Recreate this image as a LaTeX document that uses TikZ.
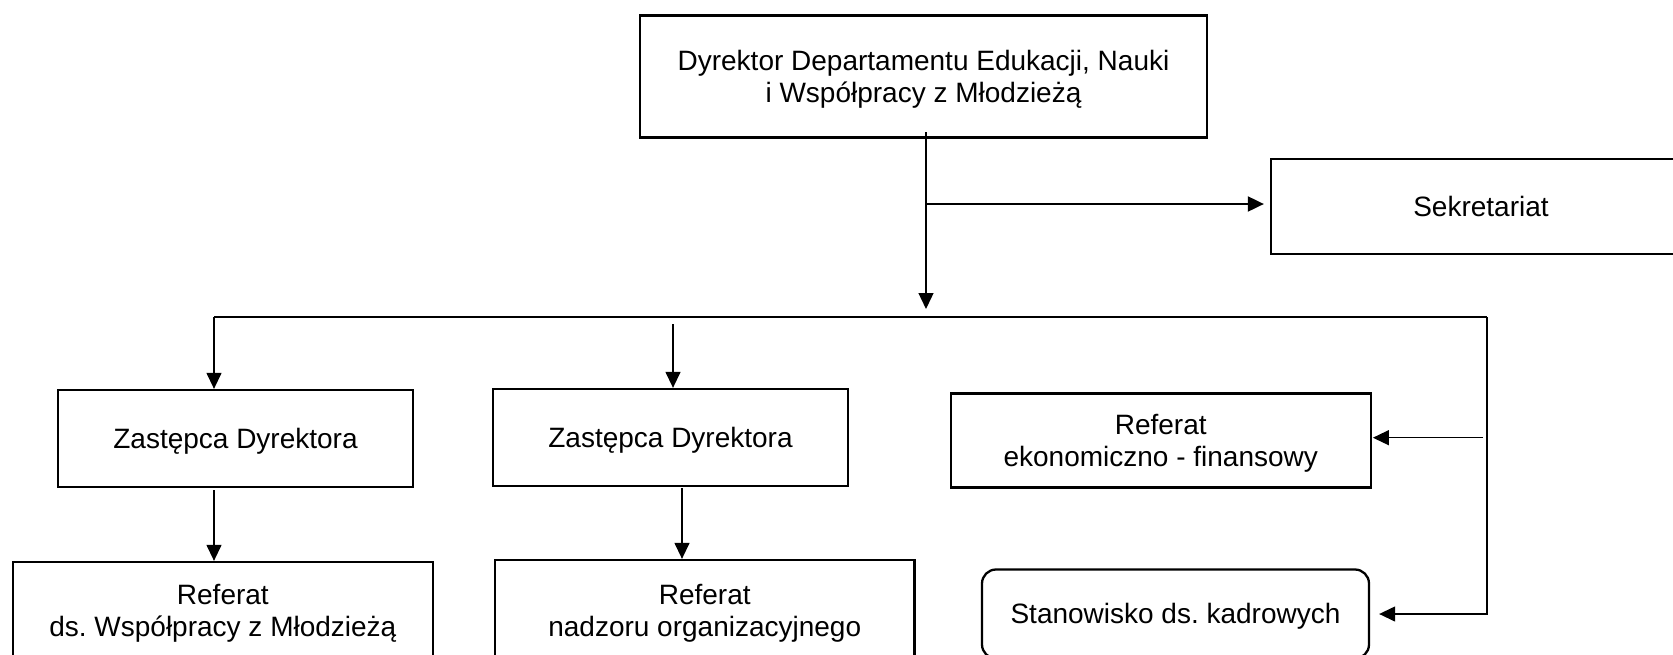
\documentclass[tikz,border=0pt]{standalone}
\usepackage{fontspec}
\setmainfont{Liberation Sans}
\usetikzlibrary{arrows.meta,calc}
\begin{document}
\begin{tikzpicture}[x=1pt,y=-1pt,
  box/.style={draw,line width=2.3pt,align=center,inner sep=0pt,
    font=\fontsize{28}{32.2}\selectfont\frenchspacing,text height=25.8pt,text depth=6.6pt},
  box2/.style={box,text height=58pt,text depth=6.4pt},
  conn/.style={line width=1.3pt},
  arr/.style={conn,-{Triangle[length=16pt,width=15pt]}}]
\useasboundingbox (0,0) rectangle (1673,654);
\clip (0,0) rectangle (1673,654);
% nodes
\node[box2,minimum width=567pt,minimum height=122pt] (dyr) at (923.5,76.5)
  {Dyrektor Departamentu Edukacji, Nauki\\i Współpracy z Młodzieżą};
\node[box,minimum width=420pt,minimum height=95pt] (sek) at (1481,206.5) {Sekretariat};
\node[box,minimum width=355pt,minimum height=97pt] (z1) at (235.5,438.5) {Zastępca Dyrektora};
\node[box,minimum width=355pt,minimum height=97pt] (z2) at (670.5,437.5) {Zastępca Dyrektora};
\node[box2,minimum width=420pt,minimum height=94pt] (ekon) at (1160.75,440.5)
  {Referat\\ekonomiczno - finansowy};
\node[box2,minimum width=420pt,minimum height=98pt] (r1) at (222.85,611)
  {Referat\\ds. Współpracy z Młodzieżą};
\node[box2,minimum width=419.5pt,minimum height=102pt] (r2) at (704.75,611)
  {Referat\\nadzoru organizacyjnego};
\node[box,rounded corners=14pt,minimum width=387pt,minimum height=89pt] (stan) at (1175.5,614)
  {Stanowisko ds. kadrowych};
% coordinates
\coordinate (dtop) at (926,132);
\coordinate (dtip) at (926,309);
\coordinate (sfrom) at (926,204);
\coordinate (busL) at (214,317);
\coordinate (busR) at (1487,317);
\coordinate (z2from) at (673,324);
\coordinate (efrom) at (1483,437.7);
\coordinate (z1b) at (214,490);
\coordinate (z2b) at (682,488);
% connectors
\draw[arr] (dtop) -- (dtip);
\draw[arr,line width=2pt,shorten >=6pt] (sfrom) -- (sfrom -| sek.west);
\draw[conn] (busL) -- (busR);
\draw[arr,shorten >=9pt] (busR) |- (stan.east);
\draw[arr,shorten >=1pt] (efrom) -- (efrom -| ekon.east);
\draw[arr] (busL) -- (busL |- z1.north);
\draw[arr] (z2from) -- (z2from |- z2.north);
\draw[arr] (z1b) -- (z1b |- r1.north);
\draw[arr] (z2b) -- (z2b |- r2.north);
\end{tikzpicture}
\end{document}
